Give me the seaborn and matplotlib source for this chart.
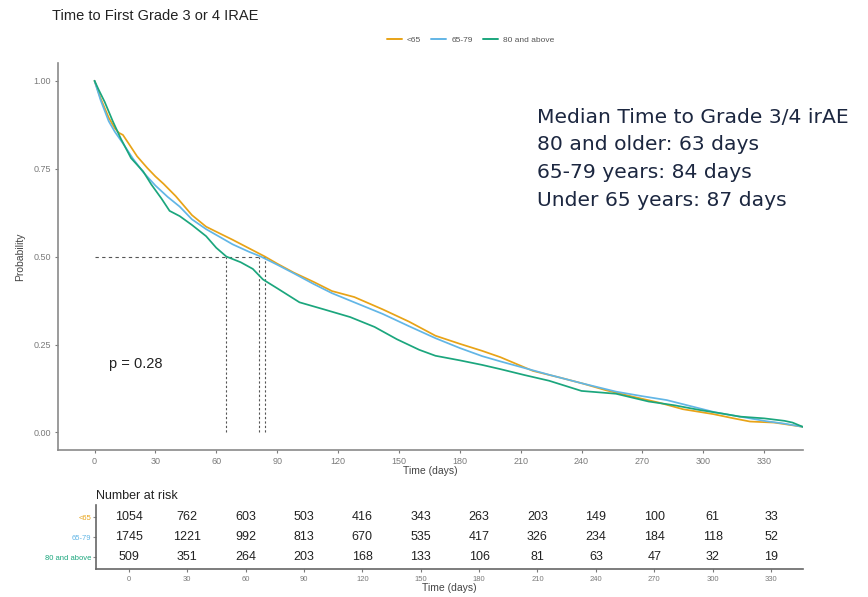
import numpy as np
import pandas as pd
import matplotlib
matplotlib.use("Agg")
import matplotlib.pyplot as plt
from matplotlib.lines import Line2D
import seaborn as sns

sns.set_theme(style="white")
plt.rcParams["font.family"] = ["Liberation Sans", "DejaVu Sans"]

# Kaplan-Meier estimates per age group (days, probability of no grade 3/4 irAE)
groups = ["<65", "65-79", "80 and above"]
colors = ["#E8A317", "#62B6E6", "#1BA67D"]

days_lt65 = [0, 3, 7, 10, 12, 14, 17, 21, 26, 30, 34, 40, 48, 55, 62, 68, 76, 84, 90,
             98, 108, 117, 128, 142, 155, 168, 180, 191, 200, 216, 230, 240, 252, 265,
             278, 290, 305, 315, 323, 335, 342, 349]
prob_lt65 = [1.0, 0.95, 0.895, 0.865, 0.852, 0.846, 0.82, 0.785, 0.752, 0.728, 0.707,
             0.672, 0.618, 0.585, 0.565, 0.548, 0.524, 0.5, 0.48, 0.455, 0.428, 0.402,
             0.385, 0.35, 0.315, 0.275, 0.252, 0.232, 0.214, 0.175, 0.155, 0.14, 0.12,
             0.102, 0.085, 0.066, 0.052, 0.04, 0.031, 0.028, 0.022, 0.016]

days_6579 = [0, 3, 7, 10, 14, 19, 24, 30, 36, 42, 48, 55, 62, 68, 76, 82, 90, 98, 108,
             117, 128, 142, 155, 168, 180, 191, 200, 212, 224, 240, 257, 270, 282, 295,
             306, 318, 331, 340, 349]
prob_6579 = [1.0, 0.945, 0.885, 0.855, 0.822, 0.778, 0.74, 0.702, 0.67, 0.642, 0.606,
             0.578, 0.555, 0.535, 0.514, 0.5, 0.477, 0.453, 0.422, 0.396, 0.37, 0.337,
             0.302, 0.268, 0.24, 0.217, 0.202, 0.183, 0.164, 0.14, 0.116, 0.103, 0.092,
             0.073, 0.057, 0.045, 0.032, 0.025, 0.016]

days_80 = [0, 2, 5, 9, 13, 18, 24, 28, 33, 37, 42, 48, 55, 60, 65, 72, 78, 83, 90, 101,
           113, 126, 138, 149, 160, 168, 180, 191, 200, 212, 224, 240, 257, 273, 286,
           298, 308, 318, 330, 340, 344, 349]
prob_80 = [1.0, 0.975, 0.94, 0.885, 0.835, 0.78, 0.742, 0.705, 0.665, 0.63, 0.615, 0.59,
           0.558, 0.525, 0.5, 0.484, 0.465, 0.435, 0.41, 0.37, 0.35, 0.328, 0.3, 0.265,
           0.235, 0.218, 0.205, 0.192, 0.18, 0.163, 0.147, 0.118, 0.11, 0.088, 0.077,
           0.064, 0.055, 0.045, 0.04, 0.033, 0.028, 0.016]

# Day at which each curve crosses 0.5
median_days = [84, 81, 65]

# Number at risk table
risk_times = [0, 30, 60, 90, 120, 150, 180, 210, 240, 270, 300, 330]
risk_lt65 = [1054, 762, 603, 503, 416, 343, 263, 203, 149, 100, 61, 33]
risk_6579 = [1745, 1221, 992, 813, 670, 535, 417, 326, 234, 184, 118, 52]
risk_80 = [509, 351, 264, 203, 168, 133, 106, 81, 63, 47, 32, 19]

summary_lines = ["Median Time to Grade 3/4 irAE",
                 "80 and older: 63 days",
                 "65-79 years: 84 days",
                 "Under 65 years: 87 days"]

curves = pd.concat([
    pd.DataFrame({"day": days_lt65, "prob": prob_lt65, "group": groups[0]}),
    pd.DataFrame({"day": days_6579, "prob": prob_6579, "group": groups[1]}),
    pd.DataFrame({"day": days_80, "prob": prob_80, "group": groups[2]}),
], ignore_index=True)

fig = plt.figure(figsize=(8.68, 5.97), dpi=100)
ax = fig.add_axes([0.0668, 0.2462, 0.858, 0.648])

axis_grey = "#8a8a8a"
tick_grey = "#7a7a7a"

# median reference lines
ax.plot([0, max(median_days)], [0.5, 0.5], color="#555555", lw=0.8,
        ls=(0, (3, 3)), zorder=1)
for md in median_days:
    ax.plot([md, md], [0, 0.5], color="#555555", lw=0.8, ls=(0, (2, 2)), zorder=1)

sns.lineplot(data=curves, x="day", y="prob", hue="group", hue_order=groups,
             palette=colors, linewidth=1.25, legend=False, ax=ax,
             estimator=None, sort=False, zorder=3)

ax.set_xlim(-18, 349)
ax.set_ylim(-0.05, 1.05)
ax.set_xticks(risk_times)
ax.set_yticks([0, 0.25, 0.5, 0.75, 1.0])
ax.set_yticklabels(["0.00", "0.25", "0.50", "0.75", "1.00"])
ax.tick_params(axis="both", labelsize=6.5, colors=tick_grey, length=2,
               width=0.8, pad=3, bottom=True, left=True)
for s in ["top", "right"]:
    ax.spines[s].set_visible(False)
for s in ["left", "bottom"]:
    ax.spines[s].set_color(axis_grey)
    ax.spines[s].set_linewidth(1.2)
ax.set_xlabel("Time (days)", fontsize=7.5, color="#444444", labelpad=0)
ax.set_ylabel("Probability", fontsize=7.5, color="#444444", labelpad=6)

ax.text(7, 0.195, "p = 0.28", fontsize=10.5, color="#222222", va="center")

# title and legend
fig.text(0.060, 0.973, "Time to First Grade 3 or 4 IRAE", fontsize=10.5,
         color="#222222", va="center")
handles = [Line2D([0], [0], color=c, lw=1.4) for c in colors]
fig.legend(handles, groups, loc="center", bbox_to_anchor=(0.542, 0.933),
           ncol=3, frameon=False, fontsize=6, handlelength=1.8,
           columnspacing=1.2, handletextpad=0.6, labelcolor="#555555")

# median summary text
for i, line in enumerate(summary_lines):
    fig.text(0.619, 0.804 - i * 0.0465, line, fontsize=14.6, color="#1c2740",
             family="DejaVu Sans", va="center")

# number at risk table
rax = fig.add_axes([0.1103, 0.0469, 0.8149, 0.1072])
risk_df = pd.concat([
    pd.DataFrame({"t": risk_times, "n": risk_lt65, "row": 3}),
    pd.DataFrame({"t": risk_times, "n": risk_6579, "row": 2}),
    pd.DataFrame({"t": risk_times, "n": risk_80, "row": 1}),
], ignore_index=True)
for _, r in risk_df.iterrows():
    rax.text(r["t"], r["row"], f"{int(r['n'])}", ha="center", va="center",
             fontsize=9, color="#222222")
rax.set_xlim(-17, 346.5)
rax.set_ylim(0.4, 3.6)
rax.set_xticks(risk_times)
rax.set_yticks([3, 2, 1])
rax.set_yticklabels(groups)
for lbl, c in zip(rax.get_yticklabels(), colors):
    lbl.set_color(c)
rax.tick_params(axis="y", labelsize=5.5, length=2, width=0.8, pad=1,
                color=axis_grey, left=True)
rax.tick_params(axis="x", labelsize=5.5, colors=tick_grey, length=2,
                width=0.8, pad=3, bottom=True)
for s in ["top", "right"]:
    rax.spines[s].set_visible(False)
for s in ["left", "bottom"]:
    rax.spines[s].set_color("#666666")
    rax.spines[s].set_linewidth(1.2)
rax.set_xlabel("Time (days)", fontsize=7.5, color="#444444", labelpad=0)
rax.set_ylabel("")
rax.set_title("Number at risk", loc="left", fontsize=9, color="#222222",
              pad=4, x=0.0)

fig.savefig("out.png", dpi=100)
